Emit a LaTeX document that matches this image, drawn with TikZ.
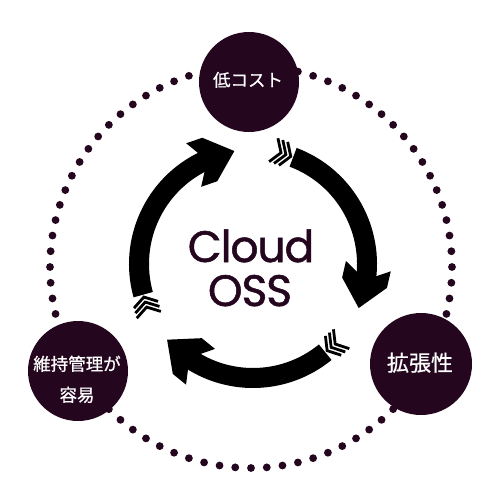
\documentclass[tikz,border=0pt]{standalone}
\usepackage{fontspec}
\setmainfont{Poppins}[UprightFeatures={FakeBold=1.2},LetterSpace=-2.5]
\newfontfamily\jp{Noto Sans CJK JP}[UprightFeatures={FakeBold=0.6}]
\definecolor{dk}{RGB}{36,6,30}
\begin{document}
\begin{tikzpicture}[x=1pt,y=-1pt,
  disc/.style={circle,fill=dk,inner sep=0pt,minimum size=#1},
  jtext/.style={text=white,font=\jp\fontsize{#1}{#1}\selectfont,anchor=base,inner sep=0pt},
  dotmark/.style={fill=dk},
  arrowbody/.style={fill=black},
  feather/.style={draw=black,line width=2.8pt,line join=miter},
  bigword/.style={text=dk,font=\fontsize{44}{44}\selectfont,anchor=base,inner sep=0pt}
]
\fill[white] (0,0) rectangle (500,500);
\useasboundingbox (0,0) rectangle (500,500);
% dotted ring
\begin{scope}[shift={(251,267)}]
  \foreach \i in {0,...,79} \fill[dotmark] ({90+4.5*\i}:201) circle[radius=3.9pt];
\end{scope}
% cycle arrows
\begin{scope}[shift={(253,264)},y=1pt]
  \foreach \t/\b in {195.6/117, 69.4/-5, -50.7/-121} {
    \fill[arrowbody] (\t:124) arc[start angle=\t, end angle={\b-2}, radius=124]
      -- ({\b-2}:104) arc[start angle={\b-2}, end angle=\t, radius=104] -- cycle;
    \fill[arrowbody,shift={(\b:114)},rotate={\b-98}]
      (0,10) -- (-8,23) -- (9,23) -- (35,0) -- (9,-23) -- (-8,-23) -- (0,-10) -- cycle;
    \begin{scope}[shift={(\t:114)},rotate={\t-90}]
      \foreach \k in {0,1,2}
        \draw[feather] ({-2.5-5.2*\k-8},12.5) -- ({-2.5-5.2*\k},0) -- ({-2.5-5.2*\k-8},-12.5);
    \end{scope}
  }
\end{scope}
% circles
\node[disc=100pt] (cost) at (249,82) {};
\node[disc=100pt] (maint) at (78,371) {};
\node[disc=102pt] (scale) at (421,364) {};
\node[jtext=17.5] (costtxt) at (248,86.5) {低コスト};
\node[jtext=17.5] (mainta) at (77,370.5) {維持管理が};
\node[jtext=17.5] (maintb) at (77,401.5) {容易};
\node[jtext=22] (scaletxt) at (420,371) {拡張性};
% centre words
\node[bigword] (cloud) at (251,262) {Cloud};
\node[bigword] (oss) at (250,306) {OSS};
\end{tikzpicture}
\end{document}
